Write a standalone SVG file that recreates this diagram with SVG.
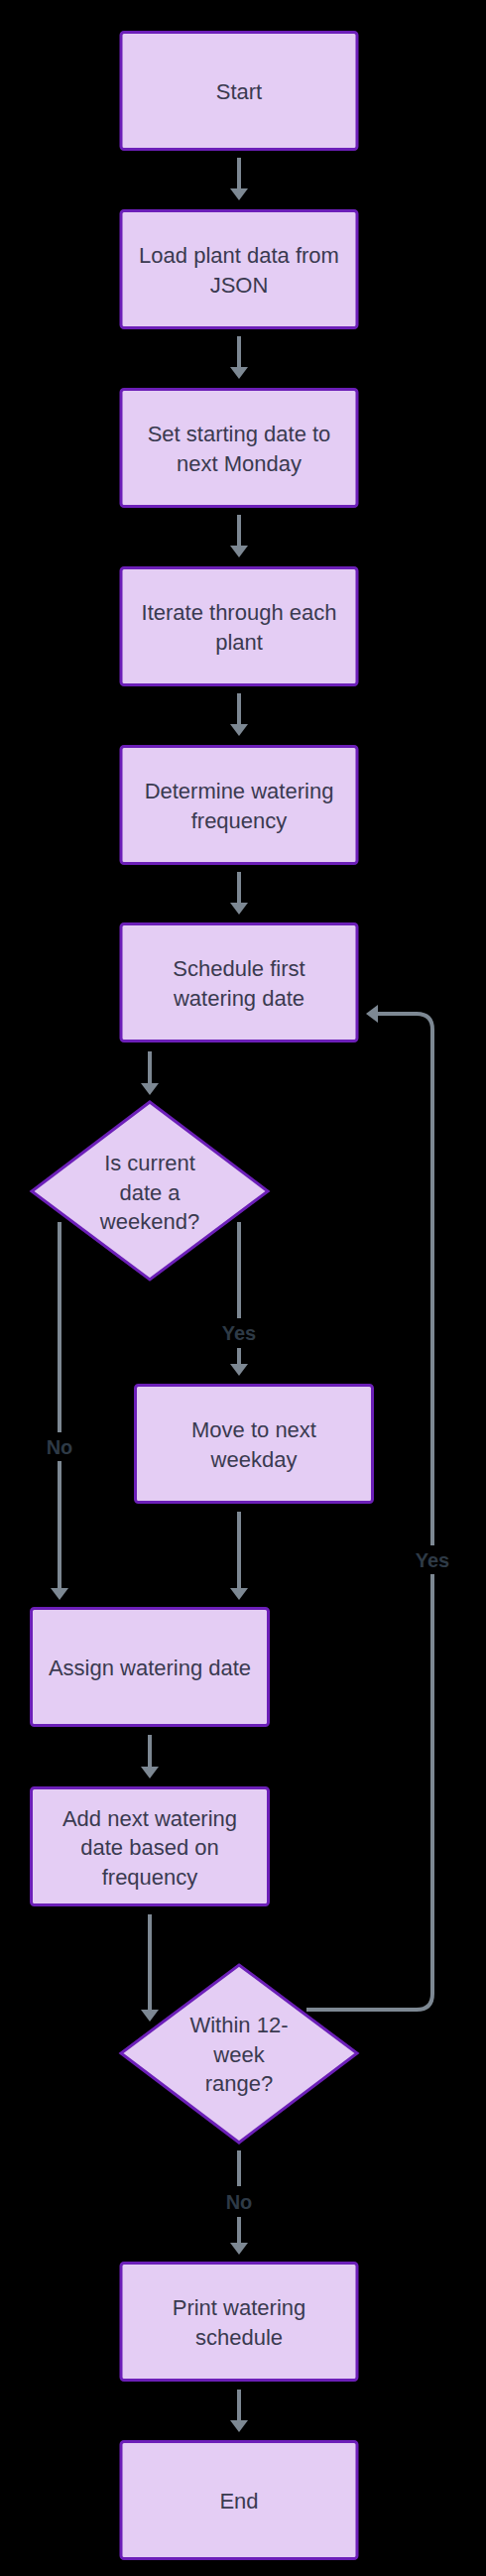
<svg xmlns="http://www.w3.org/2000/svg" width="490" height="2597" viewBox="0 0 490 2597">
<defs>
<style>
.node rect,.node polygon{fill:#E4CDF4;stroke:#6C1FB8;stroke-width:3}
.node text{font-family:"Liberation Sans",Arial,sans-serif;font-size:22px;fill:#3A3A50;text-anchor:middle}
.edge{fill:none;stroke:#7D8893;stroke-width:4}
.lbl rect{fill:#000000}
.lbl text{font-family:"Liberation Sans",Arial,sans-serif;font-size:20px;font-weight:bold;fill:#2E3A46;text-anchor:middle}
</style>
<marker id="arr" viewBox="0 0 12 18" refX="8" refY="9" markerWidth="12" markerHeight="18" markerUnits="userSpaceOnUse" orient="auto">
<path d="M0,0 L12,9 L0,18 Z" fill="#7D8893"/>
</marker>
</defs>
<rect x="0" y="0" width="490" height="2597" fill="#000000"/>
<g id="connectors">
<path class="edge" d="M241,159 L241,198" marker-end="url(#arr)"/>
<path class="edge" d="M241,339 L241,378" marker-end="url(#arr)"/>
<path class="edge" d="M241,519 L241,558" marker-end="url(#arr)"/>
<path class="edge" d="M241,699 L241,738" marker-end="url(#arr)"/>
<path class="edge" d="M241,879 L241,918" marker-end="url(#arr)"/>
<path class="edge" d="M151,1060 L151,1100" marker-end="url(#arr)"/>
<path class="edge" d="M241,1232 L241,1383" marker-end="url(#arr)"/>
<path class="edge" d="M60,1232 L60,1609" marker-end="url(#arr)"/>
<path class="edge" d="M241,1524 L241,1609" marker-end="url(#arr)"/>
<path class="edge" d="M151,1749 L151,1789" marker-end="url(#arr)"/>
<path class="edge" d="M151,1930 L151,2034" marker-end="url(#arr)"/>
<path class="edge" d="M309,2026 L420,2026 Q436,2026 436,2010 L436,1038 Q436,1022 420,1022 L373,1022" marker-end="url(#arr)"/>
<path class="edge" d="M241,2168 L241,2269" marker-end="url(#arr)"/>
<path class="edge" d="M241,2409 L241,2448" marker-end="url(#arr)"/>
<g class="lbl"><rect x="221" y="1329" width="40" height="30"/><text x="241" y="1351">Yes</text></g>
<g class="lbl"><rect x="40" y="1444" width="40" height="29"/><text x="60" y="1466">No</text></g>
<g class="lbl"><rect x="416" y="1558" width="40" height="29"/><text x="436" y="1580">Yes</text></g>
<g class="lbl"><rect x="221" y="2204" width="40" height="31"/><text x="241" y="2227">No</text></g>
</g>
<g id="start" class="node"><rect x="122" y="32.5" width="238" height="118" rx="3"/><text x="241" y="100">Start</text></g>
<g id="load" class="node"><rect x="122" y="212.5" width="238" height="118" rx="3"/><text x="241" y="265.25">Load plant data from</text><text x="241" y="294.75">JSON</text></g>
<g id="set" class="node"><rect x="122" y="392.5" width="238" height="118" rx="3"/><text x="241" y="445.25">Set starting date to</text><text x="241" y="474.75">next Monday</text></g>
<g id="iterate" class="node"><rect x="122" y="572.5" width="238" height="118" rx="3"/><text x="241" y="625.25">Iterate through each</text><text x="241" y="654.75">plant</text></g>
<g id="determine" class="node"><rect x="122" y="752.5" width="238" height="118" rx="3"/><text x="241" y="805.25">Determine watering</text><text x="241" y="834.75">frequency</text></g>
<g id="schedule" class="node"><rect x="122" y="931.5" width="238" height="118" rx="3"/><text x="241" y="984.25">Schedule first</text><text x="241" y="1013.75">watering date</text></g>
<g id="weekend" class="node"><polygon points="151,1111 270,1201 151,1290 32,1201"/><text x="151" y="1180">Is current</text><text x="151" y="1209.5">date a</text><text x="151" y="1239">weekend?</text></g>
<g id="move" class="node"><rect x="136.5" y="1396.5" width="239" height="118" rx="3"/><text x="256" y="1449.25">Move to next</text><text x="256" y="1478.75">weekday</text></g>
<g id="assign" class="node"><rect x="31.5" y="1621.5" width="239" height="118" rx="3"/><text x="151" y="1689">Assign watering date</text></g>
<g id="add" class="node"><rect x="31.5" y="1802.5" width="239" height="118" rx="3"/><text x="151" y="1840.5">Add next watering</text><text x="151" y="1870">date based on</text><text x="151" y="1899.5">frequency</text></g>
<g id="within" class="node"><polygon points="241,1981 360,2070 241,2160 122,2070"/><text x="241" y="2049">Within 12-</text><text x="241" y="2078.5">week</text><text x="241" y="2108">range?</text></g>
<g id="print" class="node"><rect x="122" y="2281.5" width="238" height="118" rx="3"/><text x="241" y="2334.25">Print watering</text><text x="241" y="2363.75">schedule</text></g>
<g id="end" class="node"><rect x="122" y="2461.5" width="238" height="118" rx="3"/><text x="241" y="2529">End</text></g>
</svg>
